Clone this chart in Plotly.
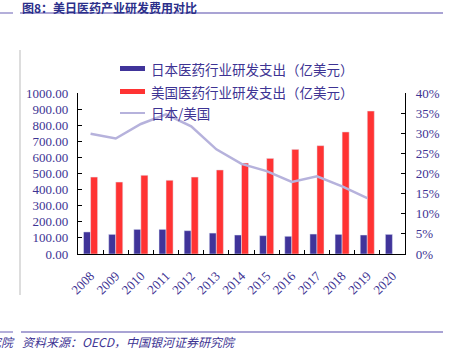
import plotly.graph_objects as go

years = ["2008", "2009", "2010", "2011", "2012", "2013", "2014", "2015", "2016", "2017", "2018", "2019", "2020"]
japan_rd = [137, 122, 153, 153, 145, 130, 118, 114, 110, 124, 122, 118, 122]
us_rd = [478, 447, 489, 458, 478, 522, 565, 594, 650, 673, 758, 888, None]
ratio = [0.299, 0.287, 0.323, 0.347, 0.317, 0.260, 0.224, 0.206, 0.179, 0.193, 0.168, 0.139, None]

name_jp = "日本医药行业研发支出（亿美元）"
name_us = "美国医药行业研发支出（亿美元）"
name_ratio = "日本/美国"

W, H = 456, 355
L, R, T, B = 78, 405, 93, 254
BLUE = "#40349A"
RED = "#FF3333"
LAV = "#B6B2DC"
TXT = "#3D3393"
SERIF = "Liberation Serif, Times New Roman, serif"
CJK = "Noto Sans CJK SC, sans-serif"


def px(x):
    return (x - L) / (R - L)


def py(y):
    return (B - y) / (B - T)


fig = go.Figure()
fig.add_trace(go.Bar(x=years, y=japan_rd, name=name_jp, marker_color=BLUE, showlegend=False))
fig.add_trace(go.Bar(x=years, y=us_rd, name=name_us, marker_color=RED, showlegend=False))
fig.add_trace(go.Scatter(x=years, y=ratio, name=name_ratio, yaxis="y2", mode="lines",
                         line=dict(color=LAV, width=2.5), showlegend=False))

fig.update_layout(
    width=W, height=H,
    margin=dict(l=L, r=W - R, t=T, b=H - B),
    paper_bgcolor="white", plot_bgcolor="white",
    barmode="group", bargap=0.44, bargroupgap=0,
    xaxis=dict(type="category", showline=True, linecolor="black", linewidth=1.3,
               ticks="inside", ticklen=4, tickcolor="black", tickson="boundaries",
               tickangle=-45, tickfont=dict(family=SERIF, size=13, color=TXT),
               showgrid=False, zeroline=False, ticklabelstandoff=8),
    yaxis=dict(range=[0, 1000], dtick=100, tickformat=".2f", showline=True,
               linecolor="black", linewidth=1.3, ticks="inside", ticklen=4,
               tickcolor="black", showgrid=False, zeroline=False,
               tickfont=dict(family=SERIF, size=13, color=TXT), ticklabelstandoff=6),
    yaxis2=dict(range=[0, 0.4], dtick=0.05, tickformat=".0%", overlaying="y", side="right",
                showline=True, linecolor="black", linewidth=1.3, ticks="inside", ticklen=4,
                tickcolor="black", showgrid=False, zeroline=False,
                tickfont=dict(family=SERIF, size=13, color=TXT), ticklabelstandoff=7),
)

shapes = []
# header / footer rules
for (a, b, y) in [(20, 443, 13), (0, 13, 13), (21, 443, 332), (0, 13, 332)]:
    shapes.append(dict(type="line", xref="paper", yref="paper", x0=px(a), x1=px(b), y0=py(y), y1=py(y),
                       line=dict(color="#8C84C6", width=1.3)))
shapes.append(dict(type="line", xref="paper", yref="paper", x0=px(20), x1=px(20), y0=py(50), y1=py(295),
                   line=dict(color="#BBBBBB", width=1)))
# legend swatches
shapes.append(dict(type="rect", xref="paper", yref="paper", x0=px(120), x1=px(145), y0=py(71), y1=py(66),
                   fillcolor=BLUE, line=dict(width=0)))
shapes.append(dict(type="rect", xref="paper", yref="paper", x0=px(120), x1=px(145), y0=py(94), y1=py(89),
                   fillcolor=RED, line=dict(width=0)))
shapes.append(dict(type="line", xref="paper", yref="paper", x0=px(120), x1=px(145), y0=py(113), y1=py(113),
                   line=dict(color=LAV, width=2)))
fig.update_layout(shapes=shapes)

annos = []
annos.append(dict(text="<b>图8：美日医药产业研发费用对比</b>", xref="paper", yref="paper", x=px(20), y=py(7),
                  xanchor="left", yanchor="middle", showarrow=False,
                  font=dict(family=CJK, size=12, color="#2B2F8A")))
for t, yy in [(name_jp, 69), (name_us, 92), (name_ratio, 113)]:
    annos.append(dict(text=t, xref="paper", yref="paper", x=px(149), y=py(yy), xanchor="left",
                      yanchor="middle", showarrow=False, font=dict(family=CJK, size=13.5, color=TXT)))
annos.append(dict(text="<i>资料来源：OECD，中国银河证券研究院</i>", xref="paper", yref="paper", x=px(20), y=py(341),
                  xanchor="left", yanchor="middle", showarrow=False,
                  font=dict(family=CJK, size=12, color=TXT)))
annos.append(dict(text="<i>究院</i>", xref="paper", yref="paper", x=px(17), y=py(341),
                  xanchor="right", yanchor="middle", showarrow=False,
                  font=dict(family=CJK, size=12, color=TXT)))
fig.update_layout(annotations=annos)

fig.write_html("out.html", config={"displayModeBar": False},
               post_script="document.body.style.margin='0px';")
